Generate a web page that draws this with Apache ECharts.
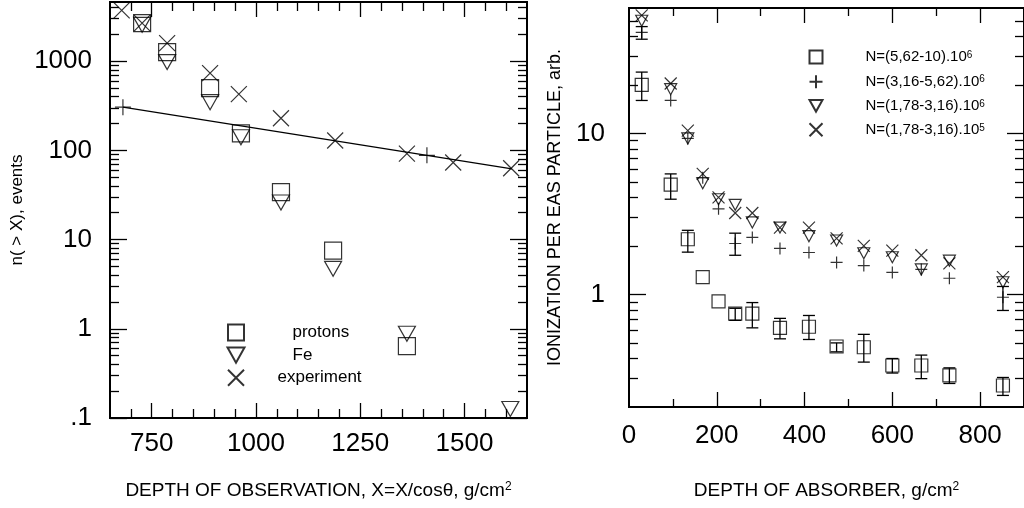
<!DOCTYPE html>
<html><head><meta charset="utf-8">
<script src="https://cdn.jsdelivr.net/npm/echarts@6/dist/echarts.min.js"></script>
<style>html,body{margin:0;padding:0;background:#fff}#c{width:1024px;height:508px}</style>
</head><body><div id="c"></div><script>
// ---------- Left panel data ----------
const protonsX = [727, 787, 890, 964, 1060, 1185, 1362];
const protonsY = [2670, 1260, 497, 155, 34, 7.5, 0.64];
const feX = [727, 787, 890, 964, 1060, 1185, 1362, 1610];
const feY = [2550, 975, 347, 140, 26, 4.7, 0.88, 0.126];
const expX = [678, 727, 787, 890, 959, 1060, 1190, 1362, 1473, 1612];
const expY = [3700, 2670, 1590, 733, 426, 229, 129, 92, 73, 63];
const fitX = [681, 1614];
const fitY = [305, 62];
const fitMarkX = [681, 1410];
const fitMarkY = [305, 88];
// ticks / labels left
const lxLabelVals = [750, 1000, 1250, 1500];
const lxLabels = ['750', '1000', '1250', '1500'];
const lxMinor = [700, 800, 850, 900, 950, 1050, 1100, 1150, 1200, 1300, 1350, 1400, 1450, 1550, 1600];
const lyLabelVals = [0.1, 1, 10, 100, 1000];
const lyLabels = ['.1', '1', '10', '100', '1000'];
const lyMinor = [0.2,0.3,0.4,0.5,0.6,0.7,0.8,0.9,2,3,4,5,6,7,8,9,20,30,40,50,60,70,80,90,200,300,400,500,600,700,800,900,2000,3000,4000];

// ---------- Right panel data ----------
const depthR = [29, 95, 134, 168, 204, 242, 281, 344, 410, 473, 535, 600, 666, 730, 852];
const sqY  = [20, 4.8, 2.2, 1.28, 0.905, 0.76, 0.76, 0.62, 0.63, 0.475, 0.47, 0.362, 0.362, 0.314, 0.272];
const sqLo = [16, 3.9, 1.83, null, null, 0.69, 0.62, 0.53, 0.525, 0.44, 0.38, 0.325, 0.30, 0.28, 0.236];
const sqHi = [24, 5.6, 2.5, null, null, 0.82, 0.89, 0.71, 0.74, 0.5, 0.565, 0.40, 0.42, 0.35, 0.305];
const plusY  = [42.4, 16, 9.3, 5.3, 3.4, 2.07, 2.26, 1.93, 1.82, 1.58, 1.51, 1.37, 1.43, 1.26, 0.96];
const plusLo = [38.4, null, null, null, null, 1.75, null, null, null, null, null, null, null, null, 0.795];
const plusHi = [46, null, null, null, null, 2.4, null, null, null, null, null, null, null, null, 1.12];
const triY   = [50, 18.8, 9.3, 4.9, 3.9, 3.6, 2.8, 2.6, 2.3, 2.16, 1.8, 1.7, 1.43, 1.62, 1.19];
const crossY = [54, 20.4, 10.4, 5.6, 4.0, 3.2, 3.2, 2.6, 2.6, 2.23, 2.0, 1.87, 1.75, 1.56, 1.28];
const seriesNamesR = ['N=(5,62-10).10⁶', 'N=(3,16-5,62).10⁶', 'N=(1,78-3,16).10⁶', 'N=(1,78-3,16).10⁵'];
// ticks / labels right
const rxLabelVals = [0, 200, 400, 600, 800];
const rxLabels = ['0', '200', '400', '600', '800'];
const rxMajor = [200, 400, 600, 800];
const rxMinor = [100, 300, 500, 700];
const ryLabelVals = [1, 10];
const ryLabels = ['1', '10'];
const ryMinor = [0.3,0.4,0.5,0.6,0.7,0.8,0.9,2,3,4,5,6,7,8,9,20,30,40,50];

// ---------- helpers ----------
const FONT = 'Liberation Sans, Arial, Helvetica, sans-serif';
const zip = (a, b) => a.map((v, i) => [v, b[i]]);
const SQ = 'path://M0,0L10,0L10,10L0,10Z';
const TRI = 'path://M0,0L10,0L5,9Z';
const CROSS = 'path://M0,0L10,10M10,0L0,10';
const PLUS = 'path://M5,0L5,10M0,5L10,5';
const hollow = {color: 'none', borderColor: '#000', borderWidth: 1.2};
function lookup(vals, texts) {
  return function (v) {
    for (let i = 0; i < vals.length; i++) {
      if (Math.abs(v - vals[i]) <= 1e-6 * Math.max(1, Math.abs(vals[i]))) return texts[i];
    }
    return '';
  };
}
function tAxis(gridIndex, pos, type, min, max, values, len, extra) {
  const a = {
    type: type, gridIndex: gridIndex, position: pos, min: min, max: max,
    axisLine: {show: false, onZero: false},
    splitLine: {show: false},
    axisLabel: {show: false},
    axisTick: {show: true, inside: true, length: len, customValues: values,
               lineStyle: {color: '#000', width: 1.3}},
    silent: true
  };
  if (type === 'log') a.logBase = 10;
  return Object.assign(a, extra || {});
}
const labelStyle = {show: true, color: '#000', fontSize: 26, fontFamily: FONT};
const nameStyle = (fs) => ({color: '#000', fontSize: fs, fontFamily: FONT,
  rich: {s: {fontSize: 12, fontFamily: FONT, color: '#000', verticalAlign: 'top', lineHeight: 12}}});

const xAxes = [
  // grid 0
  tAxis(0, 'bottom', 'value', 650, 1650, lxLabelVals, 15, {
    axisLabel: Object.assign({customValues: lxLabelVals, margin: 13, formatter: lookup(lxLabelVals, lxLabels)}, labelStyle),
    name: 'DEPTH OF OBSERVATION, X=X/cosθ, g/cm{s|2}', nameLocation: 'middle', nameGap: 63, nameTextStyle: nameStyle(19)
  }),
  tAxis(0, 'bottom', 'value', 650, 1650, lxMinor, 9),
  tAxis(0, 'top', 'value', 650, 1650, lxLabelVals, 15),
  tAxis(0, 'top', 'value', 650, 1650, lxMinor, 9),
  // grid 1
  tAxis(1, 'bottom', 'value', 0, 900, rxMajor, 15, {
    axisLabel: Object.assign({customValues: rxLabelVals, margin: 16, formatter: lookup(rxLabelVals, rxLabels)}, labelStyle),
    name: 'DEPTH OF ABSORBER, g/cm{s|2}', nameLocation: 'middle', nameGap: 74, nameTextStyle: nameStyle(19)
  }),
  tAxis(1, 'bottom', 'value', 0, 900, rxMinor, 8),
  tAxis(1, 'top', 'value', 0, 900, rxMajor, 15),
  tAxis(1, 'top', 'value', 0, 900, rxMinor, 8)
];
const yAxes = [
  tAxis(0, 'left', 'log', 0.1, 4600, lyLabelVals, 17, {
    axisLabel: Object.assign({customValues: lyLabelVals, margin: 18, formatter: lookup(lyLabelVals, lyLabels)}, labelStyle),
    name: 'n( > X), events', nameLocation: 'middle', nameGap: 84, nameTextStyle: nameStyle(17)
  }),
  tAxis(0, 'left', 'log', 0.1, 4600, lyMinor, 9),
  tAxis(0, 'right', 'log', 0.1, 4600, lyLabelVals, 17),
  tAxis(0, 'right', 'log', 0.1, 4600, lyMinor, 9),
  tAxis(1, 'left', 'log', 0.2, 60, ryLabelVals, 17, {
    axisLabel: Object.assign({customValues: ryLabelVals, margin: 24, formatter: lookup(ryLabelVals, ryLabels)}, labelStyle),
    name: 'IONIZATION PER EAS PARTICLE, arb.', nameLocation: 'middle', nameGap: 65, nameTextStyle: nameStyle(18)
  }),
  tAxis(1, 'left', 'log', 0.2, 60, ryMinor, 9),
  tAxis(1, 'right', 'log', 0.2, 60, ryLabelVals, 17),
  tAxis(1, 'right', 'log', 0.2, 60, ryMinor, 9)
];

function errData(lo, hi) {
  const out = [];
  depthR.forEach((x, i) => { if (lo[i] != null && hi[i] != null) out.push([x, lo[i], hi[i]]); });
  return out;
}
function errRender(params, api) {
  const x = api.value(0);
  const p1 = api.coord([x, api.value(1)]);
  const p2 = api.coord([x, api.value(2)]);
  const w = 6;
  const st = {stroke: '#000', lineWidth: 1.3};
  return {type: 'group', children: [
    {type: 'line', shape: {x1: p1[0], y1: p1[1], x2: p2[0], y2: p2[1]}, style: st},
    {type: 'line', shape: {x1: p1[0] - w, y1: p1[1], x2: p1[0] + w, y2: p1[1]}, style: st},
    {type: 'line', shape: {x1: p2[0] - w, y1: p2[1], x2: p2[0] + w, y2: p2[1]}, style: st}
  ]};
}
const scat = (name, data, sym, size, xi, yi) => ({
  name: name, type: 'scatter', data: data, symbol: sym, symbolSize: size,
  xAxisIndex: xi, yAxisIndex: yi, itemStyle: Object.assign({}, hollow), emphasis: {disabled: true}, clip: false
});

const series = [
  scat('protons', zip(protonsX, protonsY), SQ, 17, 0, 0),
  scat('Fe', zip(feX, feY), TRI, [17, 15], 0, 0),
  scat('experiment', zip(expX, expY), CROSS, 16, 0, 0),
  {name: 'fit', type: 'line', data: zip(fitX, fitY), xAxisIndex: 0, yAxisIndex: 0, symbol: 'none',
   lineStyle: {color: '#000', width: 1.2}},
  scat('fitmarks', zip(fitMarkX, fitMarkY), PLUS, 16, 0, 0),
  // right
  {name: 'err1', type: 'custom', data: errData(sqLo, sqHi), renderItem: errRender, xAxisIndex: 4, yAxisIndex: 4, silent: true},
  {name: 'err2', type: 'custom', data: errData(plusLo, plusHi), renderItem: errRender, xAxisIndex: 4, yAxisIndex: 4, silent: true},
  scat(seriesNamesR[0], zip(depthR, sqY), SQ, 13, 4, 4),
  scat(seriesNamesR[1], zip(depthR, plusY), PLUS, 12, 4, 4),
  scat(seriesNamesR[2], zip(depthR, triY), TRI, [12, 11], 4, 4),
  scat(seriesNamesR[3], zip(depthR, crossY), CROSS, 12, 4, 4)
];

const chart = echarts.init(document.getElementById('c'), null, {renderer: 'canvas'});
chart.setOption({
  animation: false,
  backgroundColor: '#fff',
  grid: [
    {left: 110, top: 2, width: 417, height: 416, show: true, borderColor: '#000', borderWidth: 2, backgroundColor: 'transparent'},
    {left: 629, top: 8, width: 397, height: 399, show: true, borderColor: '#000', borderWidth: 2, backgroundColor: 'transparent'}
  ],
  xAxis: xAxes,
  yAxis: yAxes,
  legend: [
    {data: [
      {name: 'protons', textStyle: {padding: [0, 0, 0, 43]}},
      {name: 'Fe', textStyle: {padding: [0, 0, 0, 43]}},
      {name: 'experiment', textStyle: {padding: [0, 0, 0, 28]}}
    ], orient: 'vertical', left: 225, top: 322, itemWidth: 17, itemHeight: 16, itemGap: 2, padding: 0,
     selectedMode: false, textStyle: {fontSize: 17, lineHeight: 16, color: '#000', fontFamily: FONT}},
    {data: seriesNamesR, orient: 'vertical', left: 807, top: 48, itemWidth: 13, itemHeight: 13, itemGap: 6.7, padding: 0,
     selectedMode: false,
     formatter: n => n.replace('⁶', '{s|6}').replace('⁵', '{s|5}'),
     textStyle: {fontSize: 15, lineHeight: 14, color: '#000', fontFamily: FONT, padding: [0, 0, 0, 38],
       rich: {s: {fontSize: 10, color: '#000', fontFamily: FONT, verticalAlign: 'top', lineHeight: 8}}}}
  ],
  series: series
});
</script></body></html>
